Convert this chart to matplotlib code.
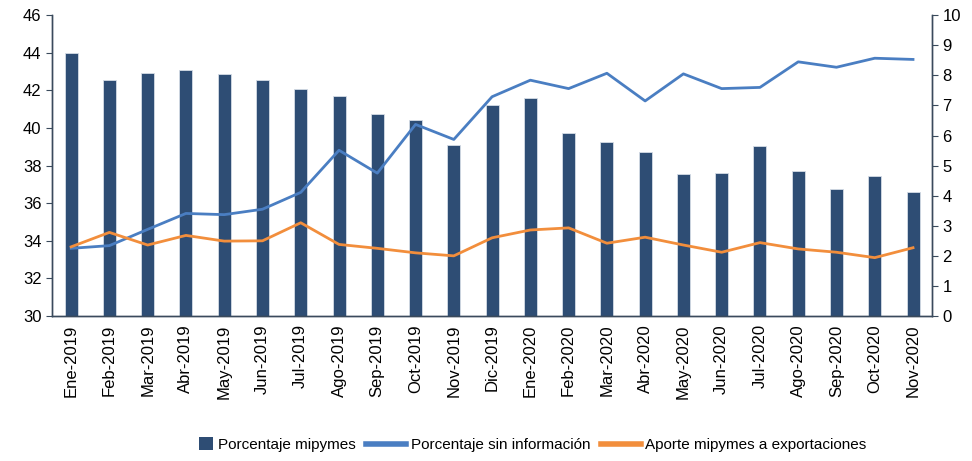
import matplotlib
matplotlib.use('Agg')
from matplotlib import pyplot as plt
from matplotlib.patches import Patch, Rectangle
from matplotlib.lines import Line2D
from matplotlib.legend_handler import HandlerPatch
import numpy as np

plt.rcParams['font.family'] = ['Liberation Sans', 'DejaVu Sans']

# Data
meses = ['Ene-2019', 'Feb-2019', 'Mar-2019', 'Abr-2019', 'May-2019', 'Jun-2019',
         'Jul-2019', 'Ago-2019', 'Sep-2019', 'Oct-2019', 'Nov-2019', 'Dic-2019',
         'Ene-2020', 'Feb-2020', 'Mar-2020', 'Abr-2020', 'May-2020', 'Jun-2020',
         'Jul-2020', 'Ago-2020', 'Sep-2020', 'Oct-2020', 'Nov-2020']
pct_mipymes = [43.97, 42.53, 42.93, 43.09, 42.87, 42.58, 42.10, 41.71, 40.76, 40.42,
               39.09, 41.20, 41.58, 39.73, 39.24, 38.74, 37.55, 37.59, 39.03, 37.73,
               36.77, 37.45, 36.60]
pct_sin_info = [2.25, 2.34, 2.88, 3.41, 3.37, 3.55, 4.11, 5.51, 4.75, 6.37, 5.87, 7.29,
                7.84, 7.56, 8.07, 7.15, 8.05, 7.56, 7.60, 8.45, 8.27, 8.57, 8.53]
aporte_export = [2.30, 2.78, 2.36, 2.68, 2.49, 2.50, 3.10, 2.38, 2.25, 2.10, 2.00, 2.60,
                 2.86, 2.93, 2.42, 2.62, 2.36, 2.12, 2.44, 2.23, 2.12, 1.94, 2.27]

bar_color = '#2E4D74'
blue = '#4A7EC2'
orange = '#F28E3C'
axis_color = '#3A4A5C'


class SquareHandler(HandlerPatch):
    # square marker for the bar series, like the original
    def create_artists(self, legend, orig_handle, xdescent, ydescent,
                       width, height, fontsize, trans):
        side = height * 1.3
        r = Rectangle((width - side - xdescent, -ydescent + (height - side) / 2), side, side,
                      facecolor=orig_handle.get_facecolor(), edgecolor='none',
                      transform=trans)
        return [r]


fig = plt.figure(figsize=(9.72, 4.61), dpi=100)
ax = fig.add_axes([0.0535, 0.3145, 0.9055, 0.6525])
x = np.arange(len(meses))
ax.bar(x, pct_mipymes, width=0.34, color=bar_color, edgecolor='#D5DCE6', linewidth=0.6)
ax.set_ylim(30, 46)
ax.set_yticks(range(30, 47, 2))
ax.set_xlim(-0.5, len(meses) - 0.5)
ax.set_xticks(x)
ax.set_xticklabels(meses, rotation=90, fontsize=12)
ax.tick_params(axis='x', length=0, pad=6)
ax.tick_params(axis='y', labelsize=12, length=4, color=axis_color, direction='out')

ax2 = ax.twinx()
ax2.plot(x, pct_sin_info, color=blue, linewidth=2)
ax2.plot(x, aporte_export, color=orange, linewidth=2)
ax2.set_ylim(0, 10)
ax2.set_yticks(range(0, 11))
ax2.tick_params(axis='y', labelsize=12, length=4, color=axis_color, direction='out')

for a in (ax, ax2):
    a.spines['top'].set_visible(False)
    for s in ('left', 'right', 'bottom'):
        a.spines[s].set_color(axis_color)
        a.spines[s].set_linewidth(1)

bar_handle = Patch(facecolor=bar_color)
handles = [bar_handle,
           Line2D([], [], color=blue, linewidth=4),
           Line2D([], [], color=orange, linewidth=4)]
labels = ['Porcentaje mipymes', 'Porcentaje sin información', 'Aporte mipymes a exportaciones']
fig.legend(handles, labels, loc='center', bbox_to_anchor=(0.535, 0.035), ncol=3,
           frameon=False, handlelength=2.6, handletextpad=0.3, columnspacing=0.7,
           prop={'size': 11}, handler_map={bar_handle: SquareHandler()})

fig.savefig('out.png', dpi=100)
